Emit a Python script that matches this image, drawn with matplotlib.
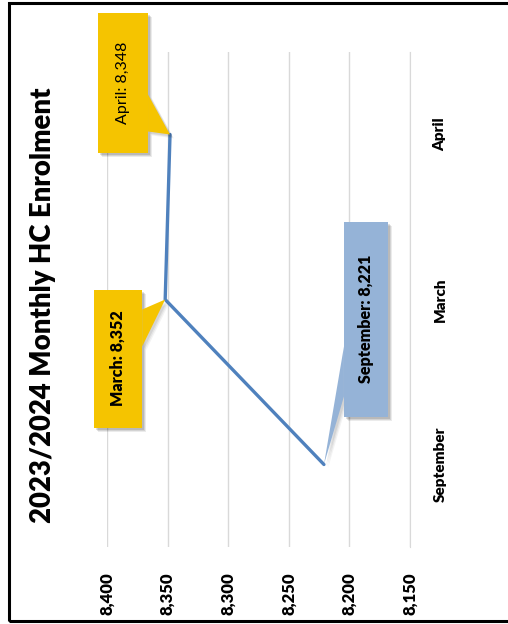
import matplotlib.pyplot as plt
from matplotlib.patches import Rectangle, Polygon
from matplotlib.transforms import IdentityTransform

months = ['September', 'March', 'April']
enrolment = [8221, 8352, 8348]
value_ticks = [8150, 8200, 8250, 8300, 8350, 8400]
tick_labels = ['8,150', '8,200', '8,250', '8,300', '8,350', '8,400']
title = '2023/2024 Monthly HC Enrolment'

W, H = 508, 624
fig = plt.figure(figsize=(W / 100, H / 100), dpi=100)
plt.rcParams['font.family'] = ['Lato', 'DejaVu Sans']

# chart is drawn turned on its side: values run right-to-left, months bottom-to-top
ax = fig.add_axes([107 / W, 1 - 547 / H, (410 - 107) / W, (547 - 52) / H])
pos = list(range(len(months)))
ax.plot(enrolment, pos, color='#4F81BD', lw=2.4, solid_capstyle='round', zorder=3)
ax.set_xlim(8400, 8150)
ax.set_ylim(-0.5, len(months) - 0.5)

ax.set_xticks(value_ticks)
ax.set_xticklabels(tick_labels, rotation=90, fontsize=12, fontweight='heavy')
ax.set_yticks(pos)
ax.set_yticklabels(months, rotation=90, fontsize=11, fontweight='heavy', va='center')
ax.yaxis.tick_right()
ax.tick_params(axis='both', length=0)
ax.tick_params(axis='x', pad=18)
ax.tick_params(axis='y', pad=17)
ax.grid(axis='x', color='#D9D9D9', lw=1)
for s in ['left', 'top', 'bottom']:
    ax.spines[s].set_visible(False)
ax.spines['right'].set_color('#D9D9D9')
ax.set_axisbelow(True)

fig.text(43 / W, 1 - 305 / H, title, rotation=90, fontsize=19.8, fontweight='heavy',
         ha='center', va='center')

# outer frame
fig.add_artist(Rectangle((9 / W, 1 - 621 / H), 1.2, (621 - 3) / H, transform=fig.transFigure,
                         fill=False, ec='black', lw=2.2))

fig.canvas.draw()


def px(x, y):
    # image pixel (y down) -> display coords
    return (x, H - y)


callouts = [
    # idx, box (x0, y0, x1, y1) relative to point, base on box edge, colour, weight
    (2, (-72, -122, -22, 18), 'right', (-40, -3), '#F5C400', 'normal'),
    (1, (-71, -10, -23, 128), 'right', (10, 47), '#F5C400', 'heavy'),
    (0, (20, -243, 64, -48), 'left', (-118, -68), '#95B3D7', 'heavy'),
]
for idx, box, side, base, col, wt in callouts:
    xd, yd = ax.transData.transform((enrolment[idx], pos[idx]))
    tx, ty = xd, H - yd
    x0, y0, x1, y1 = tx + box[0], ty + box[1], tx + box[2], ty + box[3]
    ex = x1 if side == 'right' else x0
    tri = [px(ex, ty + base[0]), px(ex, ty + base[1]), px(tx, ty)]
    # soft shadow
    for k, a in [(4, 0.08), (3, 0.1), (2, 0.12)]:
        fig.add_artist(Rectangle(px(x0 + k, y1 + k), x1 - x0, y1 - y0, transform=IdentityTransform(),
                                 fc='black', ec='none', alpha=a, zorder=4))
        fig.add_artist(Polygon([(p[0] + k, p[1] - k) for p in tri], closed=True,
                               transform=IdentityTransform(), fc='black', ec='none', alpha=a * 0.6, zorder=4))
    fig.add_artist(Rectangle(px(x0, y1), x1 - x0, y1 - y0, transform=IdentityTransform(),
                             fc=col, ec='none', zorder=5))
    fig.add_artist(Polygon(tri, closed=True, transform=IdentityTransform(), fc=col, ec='none', zorder=5))
    fig.text((x0 + x1) / 2 / W, 1 - (y0 + y1) / 2 / H, f'{months[idx]}: {enrolment[idx]:,}',
             rotation=90, ha='center', va='center', fontsize=11.5, fontweight=wt, zorder=6)

fig.savefig('out.png', dpi=100)
